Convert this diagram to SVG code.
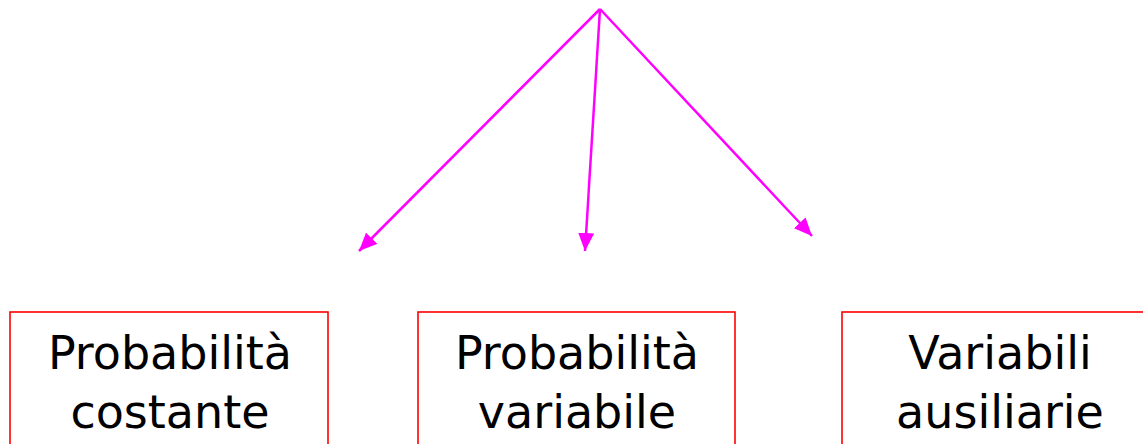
<svg xmlns="http://www.w3.org/2000/svg" width="1143" height="444" viewBox="0 0 1143 444">
<style>
.box{fill:#fff;stroke:#ff0000;stroke-width:1.6}
.lbl{font-family:"DejaVu Sans",sans-serif;font-size:46px;fill:#000;text-anchor:middle}
.conn{stroke:#ff00ff;stroke-width:2.5;fill:none;marker-end:url(#ah)}
</style>
<defs>
<marker id="ah" markerUnits="userSpaceOnUse" markerWidth="19" markerHeight="16" refX="18" refY="8" orient="auto">
<path d="M0,0 L18,8 L0,16 Z" fill="#ff00ff"/>
</marker>
</defs>
<rect width="1143" height="444" fill="#fff"/>
<g id="connectors">
<line class="conn" x1="600" y1="9" x2="359" y2="251"/>
<line class="conn" x1="600" y1="9" x2="585" y2="251"/>
<line class="conn" x1="600" y1="9" x2="812" y2="236"/>
</g>
<g id="node1">
<rect class="box" x="10" y="312" width="318" height="150"/>
<text class="lbl" x="170" y="369">Probabilità</text>
<text class="lbl" x="170" y="428">costante</text>
</g>
<g id="node2">
<rect class="box" x="418" y="312" width="317" height="150"/>
<text class="lbl" x="577" y="369">Probabilità</text>
<text class="lbl" x="577" y="428">variabile</text>
</g>
<g id="node3">
<rect class="box" x="842" y="312" width="316" height="150"/>
<text class="lbl" x="1000" y="369">Variabili</text>
<text class="lbl" x="1000" y="428">ausiliarie</text>
</g>
</svg>
